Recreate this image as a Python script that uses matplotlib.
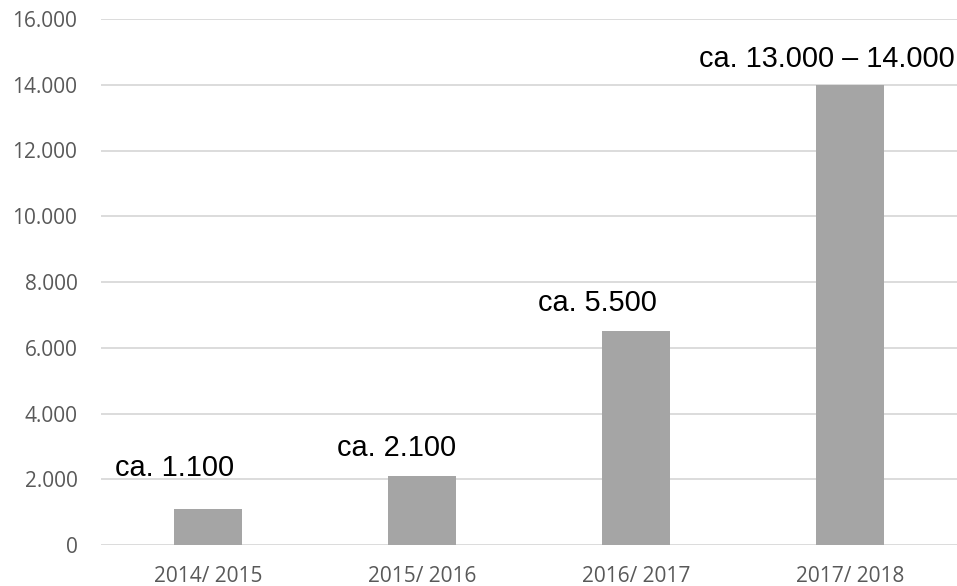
import numpy as np
import matplotlib.pyplot as plt

# --- Daten ---
seasons = ["2014/ 2015", "2015/ 2016", "2016/ 2017", "2017/ 2018"]
values = [1100, 2100, 6500, 14000]
value_labels = ["ca. 1.100", "ca. 2.100", "ca. 5.500", "ca. 13.000 – 14.000"]
y_ticks = [0, 2000, 4000, 6000, 8000, 10000, 12000, 14000, 16000]
y_tick_labels = ["0", "2.000", "4.000", "6.000", "8.000", "10.000", "12.000", "14.000", "16.000"]

# Versatz der Beschriftungen (Pixel) relativ zur Balkenoberkante
label_offsets = [(-33, 33), (-25, 20), (-39, 20), (-23, 18)]

fig = plt.figure(figsize=(9.57, 5.86), dpi=100)
ax = fig.add_axes([101 / 957, 1 - 545 / 586, 856 / 957, 526 / 586])

x = np.arange(len(seasons))
ax.bar(x, values, width=0.315, color="#a5a5a5", zorder=3)

for xi, v, lab, off in zip(x, values, value_labels, label_offsets):
    ax.annotate(lab, (xi, v), xytext=off, textcoords="offset pixels",
                ha="center", va="baseline", fontsize=20.8,
                family="Liberation Sans", color="black")

ax.set_xlim(-0.5, len(seasons) - 0.5)
ax.set_ylim(0, 16000)
ax.set_yticks(y_ticks)
ax.set_yticklabels(y_tick_labels)
ax.set_xticks(x)
ax.set_xticklabels(seasons)
ax.yaxis.grid(True, color="#d9d9d9", linewidth=1.3, zorder=0)
ax.tick_params(length=0, labelsize=15, labelcolor="#595959")
ax.tick_params(axis="y", pad=17)
ax.tick_params(axis="x", pad=15)
for lbl in ax.get_xticklabels() + ax.get_yticklabels():
    lbl.set_family("Open Sans")
for sp in ax.spines.values():
    sp.set_visible(False)

fig.savefig("out.png", dpi=100)
